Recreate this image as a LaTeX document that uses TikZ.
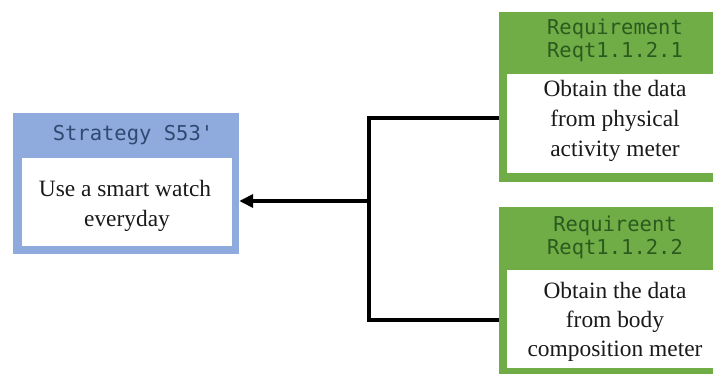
\documentclass[tikz,border=0pt]{standalone}
\usepackage{fontspec}
\setmainfont{Liberation Serif}
\newfontfamily\headfont{DejaVu Sans Mono}
\usetikzlibrary{arrows.meta}

\definecolor{stratblue}{HTML}{8FAADC}
\definecolor{stratink}{HTML}{2E4A72}
\definecolor{reqgreen}{HTML}{70AD47}
\definecolor{reqink}{HTML}{2B5A1E}
\definecolor{bodyink}{HTML}{1A1A1A}

\tikzset{
  panel/.style={rectangle, inner sep=0pt, draw=none},
  headline/.style={anchor=base, inner sep=0pt, font=\headfont\fontsize{20.5}{23}\selectfont},
  bodyline/.style={anchor=base, inner sep=0pt, text=bodyink, font=\fontsize{23.4}{30}\selectfont},
  conn/.style={line width=4pt, draw=black, line join=miter},
  arrowconn/.style={conn, -{Triangle[length=14pt,width=13pt]}}
}

\begin{document}
\begin{tikzpicture}[x=1pt,y=-1pt]
  \useasboundingbox (0,0) rectangle (713,374);
  \clip (0,0) rectangle (713,374);
  \fill[white] (0,0) rectangle (713,374);

  % strategy box
  \node[panel, fill=stratblue, minimum width=226pt, minimum height=141pt] (strat) at (126,183.5) {};
  \node[panel, fill=white, minimum width=210pt, minimum height=88pt] (stratbody) at (127,202) {};
  \node[headline, text=stratink] (strattitle) at (133,140.5) {Strategy S53'};
  \node[bodyline] (stratl1) at (125,197) {Use a smart watch};
  \node[bodyline] (stratl2) at (127,227) {everyday};

  % first requirement box
  \node[panel, fill=reqgreen, minimum width=232pt, minimum height=170pt] (reqa) at (615,97) {};
  \node[panel, fill=white, minimum width=216pt, minimum height=99pt] (reqabody) at (615,123.5) {};
  \node[headline, text=reqink] (reqat1) at (615,35) {Requirement};
  \node[headline, text=reqink] (reqat2) at (615,58) {Reqt1.1.2.1};
  \node[bodyline] (reqal1) at (615,97) {Obtain the data};
  \node[bodyline] (reqal2) at (615,127) {from physical};
  \node[bodyline] (reqal3) at (615,157) {activity meter};

  % second requirement box
  \node[panel, fill=reqgreen, minimum width=232pt, minimum height=170pt] (reqb) at (615,292) {};
  \node[panel, fill=white, minimum width=216pt, minimum height=98pt] (reqbbody) at (615,319) {};
  \node[headline, text=reqink] (reqbt1) at (615,232) {Requireent};
  \node[headline, text=reqink] (reqbt2) at (615,255) {Reqt1.1.2.2};
  \node[bodyline] (reqbl1) at (615,299) {Obtain the data};
  \node[bodyline] (reqbl2) at (615,328) {from body};
  \node[bodyline] (reqbl3) at (615,357) {composition meter};

  % connectors
  \coordinate (join) at (369,201);
  \draw[conn] ([yshift=-21pt]reqa.west) -| (join) |- ([yshift=-28pt]reqb.west);
  \draw[arrowconn] (join) -- (join -| strat.east);
\end{tikzpicture}
\end{document}
